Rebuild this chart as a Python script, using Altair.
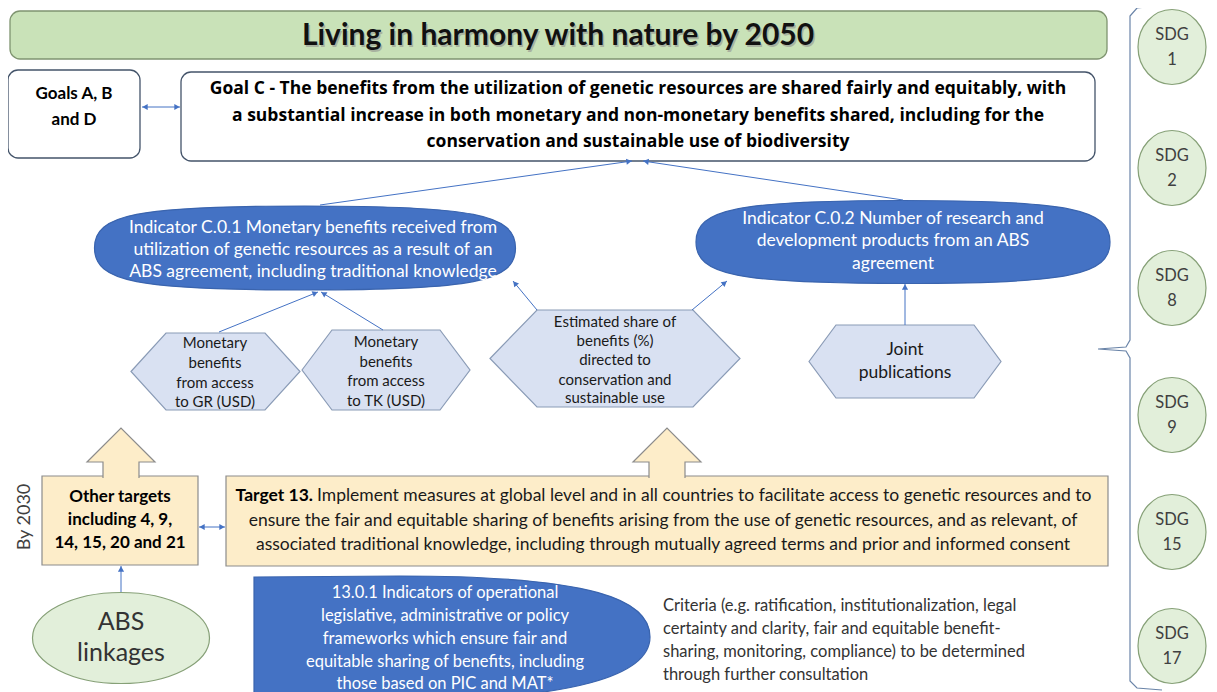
import math
import altair as alt
import pandas as pd

FONT = "Lato"
W_PX, H_PX = 1201, 676
X0, Y0 = 8, 8

# ---------------- texts ----------------
title_text = "Living in harmony with nature by 2050"
goals_abd_lines = ["Goals A, B", "and D"]
goal_c_lines = [
    "Goal C - The benefits from the utilization of genetic resources are shared fairly and equitably, with",
    "a substantial increase in both monetary and non-monetary benefits shared, including for the",
    "conservation and sustainable use of biodiversity",
]
c01_lines = [
    "Indicator C.0.1 Monetary benefits received from",
    "utilization of genetic resources as a result of an",
    "ABS agreement, including traditional knowledge",
]
c02_lines = [
    "Indicator C.0.2 Number of research and",
    "development products from an ABS",
    "agreement",
]
gr_lines = ["Monetary", "benefits", "from access", "to GR (USD)"]
tk_lines = ["Monetary", "benefits", "from access", "to TK (USD)"]
est_lines = ["Estimated share of", "benefits (%)", "directed to", "conservation and", "sustainable use"]
joint_lines = ["Joint", "publications"]
other_lines = ["Other targets", "including 4, 9,", "14, 15, 20 and 21"]
t13_bold = "Target 13."
t13_first = "Implement measures at global level and in all countries to facilitate access to genetic resources and to"
t13_rest = [
    "ensure the fair and equitable sharing of benefits arising from the use of genetic resources, and as relevant, of",
    "associated traditional knowledge, including through mutually agreed terms and prior and informed consent",
]
ind1301_lines = [
    "13.0.1 Indicators of operational",
    "legislative, administrative or policy",
    "frameworks which ensure fair and",
    "equitable sharing of benefits, including",
    "those based on PIC and MAT*",
]
criteria_lines = [
    "Criteria (e.g. ratification, institutionalization, legal",
    "certainty and clarity, fair and equitable benefit-",
    "sharing, monitoring, compliance) to be determined",
    "through further consultation",
]
abs_lines = ["ABS", "linkages"]
sdg_numbers = ["1", "2", "8", "9", "15", "17"]
by2030_text = "By 2030"

# ---------------- colours ----------------
BLUE = "#4472C4"
BLUE_EDGE = "#3A64AE"
HEX_FILL = "#D9E1F2"
HEX_EDGE = "#8A9BB6"
GREEN_FILL = "#E2EFDA"
GREEN_EDGE = "#86A077"
BANNER_FILL = "#C9E2B8"
BANNER_EDGE = "#7F9470"
YELLOW = "#FDEDC9"
YELLOW_EDGE = "#8C8C8C"
BOX_EDGE = "#44546A"

# ---------------- layout (pixel positions of the diagram) ----------------
round_x1 = [10, 8, 181]
round_y1 = [11, 70, 72]
round_x2 = [1107, 140, 1095]
round_y2 = [59, 158, 161]
round_fill = [BANNER_FILL, "#FFFFFF", "#FFFFFF"]
round_stroke = [BANNER_EDGE, BOX_EDGE, BOX_EDGE]

square_x1 = [42, 226]
square_y1 = [476, 476]
square_x2 = [198, 1108]
square_y2 = [565, 566]

oval_cx = [305, 903]
oval_cy = [248, 242]
oval_w = [421, 414]
oval_h = [84, 83]

abs_cx, abs_cy, abs_w, abs_h = 121, 638, 177, 91

sdg_cx = 1172
sdg_cy = [47, 168, 288, 415, 532, 646]
sdg_w, sdg_h = 68, 75

hex_cx = [215.5, 386, 615, 905]
hex_cy = [371.5, 370, 358.5, 361.5]
hex_w = [169, 168, 250, 192]
hex_h = [77, 80, 97, 73]
hex_inset = [35, 30, 47, 27]

barrow_cx = [121, 667]
barrow_tip_y = 428
barrow_head_y = 462
barrow_base_y = 478
barrow_head_half = 34
barrow_shaft_half = 18

# outline of the 13.0.1 indicator shape (cut by the picture's left and bottom)
ind_cx, ind_cy, ind_r = 452, 638, 200
ind_outline = [
    ("M", [(254, 577)]),
    ("L", [(400, 576)]),
    ("C", [(595, 576), (650, 600), (650, 637)]),
    ("C", [(650, 675), (575, 700), (400, 700)]),
    ("L", [(254, 700)]),
]

conn_x1 = [142, 320, 903, 219, 383, 537, 692, 905, 199, 121]
conn_y1 = [107, 205, 200, 332, 330, 310, 310, 325, 527, 592]
conn_x2 = [180, 632, 643, 318, 321, 513, 727, 905, 225, 121]
conn_y2 = [107, 161, 161, 292, 292, 281, 281, 284, 527, 566]
conn_double = [True, False, False, False, False, False, False, False, True, False]

bracket_x = [1162, 1137, 1130, 1130, 1126, 1098, 1126, 1130, 1130, 1137, 1162]
bracket_y = [5, 8, 16, 340, 347, 349, 351, 358, 681, 688, 690]


# ---------------- shape paths (normalised [-1,1] symbol geometry) ----------------
def oval_path(w, h, kap):
    k = h / w
    return (f"M-1,0 C-1,{-k*kap:.4f} {-kap:.4f},{-k:.4f} 0,{-k:.4f} "
            f"C{kap:.4f},{-k:.4f} 1,{-k*kap:.4f} 1,0 "
            f"C1,{k*kap:.4f} {kap:.4f},{k:.4f} 0,{k:.4f} "
            f"C{-kap:.4f},{k:.4f} -1,{k*kap:.4f} -1,0 Z")


def hexagon_path(w, h, inset):
    k = h / w
    a = -1 + 2 * inset / w
    b = 1 - 2 * inset / w
    return (f"M-1,0 L{a:.4f},{-k:.4f} L{b:.4f},{-k:.4f} L1,0 "
            f"L{b:.4f},{k:.4f} L{a:.4f},{k:.4f} Z")


def block_arrow_path():
    r = barrow_head_half
    cy = (barrow_tip_y + barrow_base_y) / 2
    t = (barrow_tip_y - cy) / r
    hy = (barrow_head_y - cy) / r
    by = (barrow_base_y - cy) / r
    s = barrow_shaft_half / r
    return (f"M{-s:.4f},{by:.4f} L{-s:.4f},{hy:.4f} L-1,{hy:.4f} L0,{t:.4f} "
            f"L1,{hy:.4f} L{s:.4f},{hy:.4f} L{s:.4f},{by:.4f}")


def outline_path(cmds, cx, cy, r):
    parts = []
    for c, pts in cmds:
        coords = " ".join(f"{(px - cx) / r:.4f},{(py - cy) / r:.4f}" for px, py in pts)
        parts.append(f"{c}{coords}")
    return " ".join(parts) + " Z"


shape_rows = []
for cx, cy, w, h in zip(oval_cx, oval_cy, oval_w, oval_h):
    shape_rows.append(dict(cx=cx, cy=cy, path=oval_path(w, h, 0.8), size=w * w, fill=BLUE, stroke=BLUE_EDGE))
shape_rows.append(dict(cx=abs_cx, cy=abs_cy, path=oval_path(abs_w, abs_h, 0.5523), size=abs_w ** 2,
                       fill=GREEN_FILL, stroke=GREEN_EDGE))
for cy in sdg_cy:
    shape_rows.append(dict(cx=sdg_cx, cy=cy, path=oval_path(sdg_w, sdg_h, 0.5523), size=sdg_w ** 2,
                           fill=GREEN_FILL, stroke=GREEN_EDGE))
for cx, cy, w, h, ins in zip(hex_cx, hex_cy, hex_w, hex_h, hex_inset):
    shape_rows.append(dict(cx=cx, cy=cy, path=hexagon_path(w, h, ins), size=w * w,
                           fill=HEX_FILL, stroke=HEX_EDGE))
for cx in barrow_cx:
    shape_rows.append(dict(cx=cx, cy=(barrow_tip_y + barrow_base_y) / 2, path=block_arrow_path(),
                           size=(2 * barrow_head_half) ** 2, fill=YELLOW, stroke=YELLOW_EDGE))
shape_rows.append(dict(cx=ind_cx, cy=ind_cy, path=outline_path(ind_outline, ind_cx, ind_cy, ind_r),
                       size=(2 * ind_r) ** 2, fill=BLUE, stroke=BLUE_EDGE))
df_shapes = pd.DataFrame(shape_rows)

# arrow heads
head_rows = []
for x1, y1, x2, y2, dbl in zip(conn_x1, conn_y1, conn_x2, conn_y2, conn_double):
    ends = [(x1, y1, x2, y2)]
    if dbl:
        ends.append((x2, y2, x1, y1))
    for a, b, c, d in ends:
        dx, dy = c - a, d - b
        L = math.hypot(dx, dy)
        ux, uy = dx / L, dy / L
        ang = math.degrees(math.atan2(dx, -dy)) % 360
        head_rows.append(dict(x=c - 3 * ux, y=d - 3 * uy, angle=ang))
df_heads = pd.DataFrame(head_rows)

df_conn = pd.DataFrame(dict(x1=conn_x1, y1=conn_y1, x2=conn_x2, y2=conn_y2))
df_bracket = pd.DataFrame(dict(x=bracket_x, y=bracket_y, i=list(range(len(bracket_x)))))

df_round = pd.DataFrame(dict(x1=round_x1, y1=round_y1, x2=round_x2, y2=round_y2,
                             fill=round_fill, stroke=round_stroke))
df_square = pd.DataFrame(dict(x1=square_x1, y1=square_y1, x2=square_x2, y2=square_y2))

# ---------------- scales ----------------
xs = alt.Scale(domain=[X0, X0 + W_PX], nice=False, zero=False)
ys = alt.Scale(domain=[Y0, Y0 + H_PX], nice=False, zero=False, reverse=True)


def X(f):
    return alt.X(f"{f}:Q", scale=xs, axis=None)


def Y(f):
    return alt.Y(f"{f}:Q", scale=ys, axis=None)


layers = []
layers.append(alt.Chart(df_round).mark_rect(cornerRadius=10, strokeWidth=1.3).encode(
    x=X("x1"), x2=alt.X2("x2:Q"), y=Y("y1"), y2=alt.Y2("y2:Q"),
    fill=alt.Fill("fill:N", scale=None), stroke=alt.Stroke("stroke:N", scale=None)))
layers.append(alt.Chart(df_square).mark_rect(fill=YELLOW, stroke=YELLOW_EDGE, strokeWidth=1.2).encode(
    x=X("x1"), x2=alt.X2("x2:Q"), y=Y("y1"), y2=alt.Y2("y2:Q")))
layers.append(alt.Chart(df_shapes).mark_point(filled=True, opacity=1, strokeWidth=1.2).encode(
    x=X("cx"), y=Y("cy"),
    shape=alt.Shape("path:N", scale=None), size=alt.Size("size:Q", scale=None),
    fill=alt.Fill("fill:N", scale=None), stroke=alt.Stroke("stroke:N", scale=None)))
layers.append(alt.Chart(df_conn).mark_rule(color=BLUE, strokeWidth=1).encode(
    x=X("x1"), y=Y("y1"), x2=alt.X2("x2:Q"), y2=alt.Y2("y2:Q")))
layers.append(alt.Chart(df_heads).mark_point(shape="triangle-up", filled=True, opacity=1, size=38,
                                             color=BLUE).encode(
    x=X("x"), y=Y("y"), angle=alt.Angle("angle:Q", scale=None)))
layers.append(alt.Chart(df_bracket).mark_line(color="#6A84A8", strokeWidth=1.2).encode(
    x=X("x"), y=Y("y"), order="i:Q"))


def text_layer(xs_, ys_, texts, size, color="#000000", weight="normal", align="center", angle=0,
               font=FONT):
    df = pd.DataFrame(dict(x=xs_, y=ys_, t=texts))
    return alt.Chart(df).mark_text(font=font, fontSize=size, fontWeight=weight, color=color,
                                   align=align, baseline="middle", angle=angle).encode(
        x=X("x"), y=Y("y"), text="t:N")


def lines_at(cx, ys_, lines):
    return [cx] * len(lines), ys_, lines


# title with shadow
layers.append(text_layer([559.5], [37.5], [title_text], 30, color="#A9B3A0", weight="bold"))
layers.append(text_layer([558], [36], [title_text], 30, color="#111111", weight="bold"))
layers.append(text_layer(*lines_at(74, [94, 120], goals_abd_lines), 17, weight="bold"))
layers.append(text_layer(*lines_at(638, [89, 116, 142], goal_c_lines), 17.5, weight="bold",
                         font="Open Sans"))
layers.append(text_layer(*lines_at(313, [228, 250, 272], c01_lines), 17.5, color="#FFFFFF"))
layers.append(text_layer(*lines_at(893, [219, 241, 264], c02_lines), 17.5, color="#FFFFFF"))
layers.append(text_layer(*lines_at(215, [343, 363, 383, 402], gr_lines), 15, color="#1A1A1A"))
layers.append(text_layer(*lines_at(386, [342, 362, 381, 401], tk_lines), 15, color="#1A1A1A"))
layers.append(text_layer(*lines_at(615, [322, 341, 360, 380, 398], est_lines), 15, color="#1A1A1A"))
layers.append(text_layer(*lines_at(905, [350, 373], joint_lines), 17.5, color="#1A1A1A"))
layers.append(text_layer(*lines_at(120, [497, 520, 543], other_lines), 17, weight="bold"))
layers.append(text_layer([313], [496], [t13_bold], 17.5, weight="bold", align="right"))
layers.append(text_layer([317], [496], [t13_first], 17.5, color="#1A1A1A", align="left"))
layers.append(text_layer(*lines_at(663, [521, 545], t13_rest), 17.5, color="#1A1A1A"))
layers.append(text_layer(*lines_at(445, [593, 616, 639, 662, 684], ind1301_lines), 16.5, color="#FFFFFF"))
layers.append(text_layer([663] * 4, [606, 629, 652, 675], criteria_lines, 16.5, color="#333333",
                         align="left"))
layers.append(text_layer(*lines_at(121, [622, 653], abs_lines), 25, color="#333333"))
layers.append(text_layer([sdg_cx] * 6, [c - 12 for c in sdg_cy], ["SDG"] * 6, 16.5, color="#404040"))
layers.append(text_layer([sdg_cx] * 6, [c + 13 for c in sdg_cy], sdg_numbers, 16.5, color="#404040"))
layers.append(text_layer([25], [517], [by2030_text], 18, color="#404040", angle=270))

chart = alt.layer(*layers).properties(
    width=W_PX, height=H_PX,
    padding={"left": 0, "top": 0, "right": 0, "bottom": 8},
    autosize=alt.AutoSizeParams(type="none"),
).configure_view(stroke=None)

chart.save("out.html", embed_options={"renderer": "svg", "actions": False})
